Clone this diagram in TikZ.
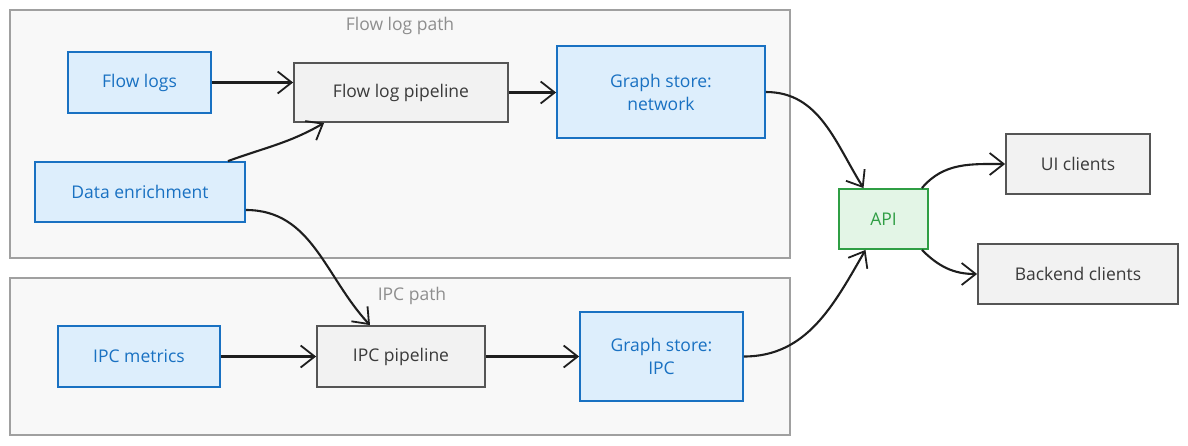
\documentclass[tikz,border=0pt]{standalone}
\usepackage{fontspec}
\setmainfont{Open Sans}
\usetikzlibrary{arrows.meta,calc}
\definecolor{bstroke}{HTML}{1971C2}
\definecolor{bfill}{HTML}{DDEEFC}
\definecolor{gstroke}{HTML}{555555}
\definecolor{gtext}{HTML}{3A3A3A}
\definecolor{gfill}{HTML}{F2F2F2}
\definecolor{grstroke}{HTML}{2F9E44}
\definecolor{grfill}{HTML}{E3F5E6}
\definecolor{frstroke}{HTML}{A0A0A0}
\definecolor{frfill}{HTML}{F8F8F8}
\definecolor{frtext}{HTML}{8E8E8E}
\definecolor{ink}{HTML}{1E1E1E}
\tikzset{
  box/.style={rectangle, inner sep=0pt, line width=1.8pt, align=center,
    font=\fontsize{17.5}{23}\selectfont},
  bluebox/.style={box, draw=bstroke, fill=bfill, text=bstroke},
  greybox/.style={box, draw=gstroke, fill=gfill, text=gtext},
  greenbox/.style={box, draw=grstroke, fill=grfill, text=grstroke},
  framebox/.style={rectangle, inner sep=0pt, draw=frstroke, fill=frfill, line width=1.8pt},
  framelabel/.style={text=frtext, font=\fontsize{17.5}{20}\selectfont},
  conn/.style={draw=ink, line width=2.1pt, -{Straight Barb[length=14pt,width=22pt,line width=1.8pt]}}
}
\begin{document}
\begin{tikzpicture}[x=1pt,y=-1pt]
\useasboundingbox[fill=white] (0,0) rectangle (1188,445);
% frames
\node[framebox, minimum width=780, minimum height=248] (f1) at (400,134) {};
\node[framebox, minimum width=780, minimum height=157] (f2) at (400,356.5) {};
\node[framelabel] (f1l) at (400,26) {Flow log path};
\node[framelabel] (f2l) at (412,296) {IPC path};
% nodes
\node[bluebox, minimum width=143, minimum height=61] (fl) at (139.5,82.5) {Flow logs};
\node[greybox, minimum width=214, minimum height=59] (flp) at (401,92.5) {Flow log pipeline};
\node[bluebox, minimum width=208, minimum height=92] (gsn) at (661,92) {Graph store:\\network};
\node[bluebox, minimum width=210, minimum height=60] (de) at (140,192) {Data enrichment};
\node[greenbox, minimum width=89, minimum height=60] (api) at (883.5,219) {API};
\node[greybox, minimum width=144, minimum height=60] (ui) at (1078,164) {UI clients};
\node[greybox, minimum width=200, minimum height=60] (be) at (1078,274) {Backend clients};
\node[bluebox, minimum width=162, minimum height=61] (ipm) at (139,356.5) {IPC metrics};
\node[greybox, minimum width=168, minimum height=61] (ipp) at (401,356.5) {IPC pipeline};
\node[bluebox, minimum width=163, minimum height=89] (gsi) at (661.5,356.5) {Graph store:\\IPC};
% connectors
\draw[conn] (fl.east) -- (flp.west |- fl.east);
\draw[conn] ([xshift=-18pt]de.north east) to[out=20,in=210] ([xshift=31pt]flp.south west);
\draw[conn] (flp.east) -- (gsn.west |- flp.east);
\draw[conn] (gsn.east) to[out=0,in=122] ([xshift=-20pt]api.north);
\draw[conn] ([yshift=-18pt]de.east) to[out=0,in=133] ([xshift=-31pt]ipp.north);
\draw[conn] (ipm.east) -- (ipp.west);
\draw[conn] (ipp.east) -- (gsi.west);
\draw[conn] (gsi.east) to[out=0,in=240] ([xshift=-18pt]api.south);
\draw[conn] ([xshift=-7pt]api.north east) to[out=50,in=180] (ui.west);
\draw[conn] ([xshift=-7pt]api.south east) to[out=-45,in=180] (be.west);
\end{tikzpicture}
\end{document}
